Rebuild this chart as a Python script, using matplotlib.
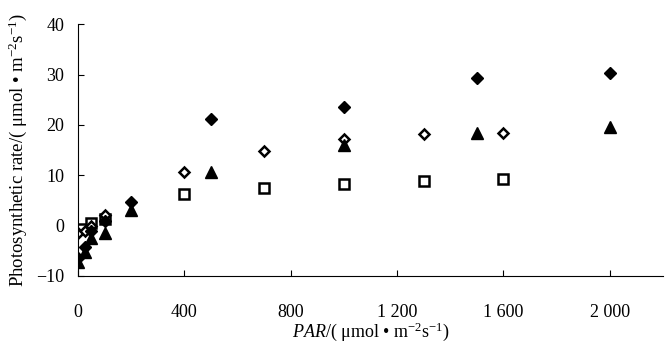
import matplotlib
matplotlib.use('Agg')
import matplotlib.pyplot as plt

plt.rcParams['font.family'] = ['Liberation Serif', 'DejaVu Serif']
plt.rcParams['mathtext.fontset'] = 'custom'
plt.rcParams['mathtext.rm'] = 'Liberation Serif'
plt.rcParams['mathtext.it'] = 'Liberation Serif:italic'

# light response data, four treatments
par_a = [0, 25, 50, 100, 200, 500, 1000, 1500, 2000]
rate_a = [-6.5, -4.2, -1.0, 1.0, 4.7, 21.1, 23.6, 29.4, 30.3]

par_b = [0, 25, 50, 100, 400, 700, 1000, 1300, 1600]
rate_b = [-1.5, -1.0, 0.0, 2.1, 10.7, 14.9, 17.1, 18.2, 18.4]

par_c = [0, 25, 50, 100, 200, 500, 1000, 1500, 2000]
rate_c = [-7.2, -5.3, -2.5, -1.5, 3.1, 10.6, 16.0, 18.3, 19.6]

par_d = [10, 50, 100, 400, 700, 1000, 1300, 1600]
rate_d = [-0.6, 0.6, 1.4, 6.2, 7.5, 8.2, 8.9, 9.2]

x_ticks = [0, 400, 800, 1200, 1600, 2000]
x_tick_labels = ['0', '400', '800', '1 200', '1 600', '2 000']
y_ticks = [-10, 0, 10, 20, 30, 40]

fig = plt.figure(figsize=(6.67, 3.45), dpi=100)
ax = fig.add_axes([0.117, 0.2, 0.877, 0.73])

ax.plot(par_d, rate_d, linestyle='none', marker='s', ms=6.5, mfc='white',
        mec='black', mew=1.8)
ax.plot(par_b, rate_b, linestyle='none', marker='D', ms=5.5, mfc='white',
        mec='black', mew=1.8)
ax.plot(par_c, rate_c, linestyle='none', marker='^', ms=8, color='black')
ax.plot(par_a, rate_a, linestyle='none', marker='D', ms=6.5, color='black')

ax.set_xlim(0, 2200)
ax.set_ylim(-10, 40)
ax.set_xticks(x_ticks)
ax.set_xticklabels(x_tick_labels)
ax.set_yticks(y_ticks)
ax.tick_params(direction='in', length=4, width=0.8, labelsize=13)
ax.tick_params(axis='x', pad=20)
ax.tick_params(axis='y', pad=10)

ax.spines['top'].set_visible(False)
ax.spines['right'].set_visible(False)

ax.set_xlabel(r'$\mathit{PAR}$/( μmol • m$^{-2}$s$^{-1}$)', fontsize=13, labelpad=0)
ax.set_ylabel(r'Photosynthetic rate/( μmol • m$^{-2}$s$^{-1}$)', fontsize=13.5, labelpad=5)

fig.savefig('out.png', dpi=100)
